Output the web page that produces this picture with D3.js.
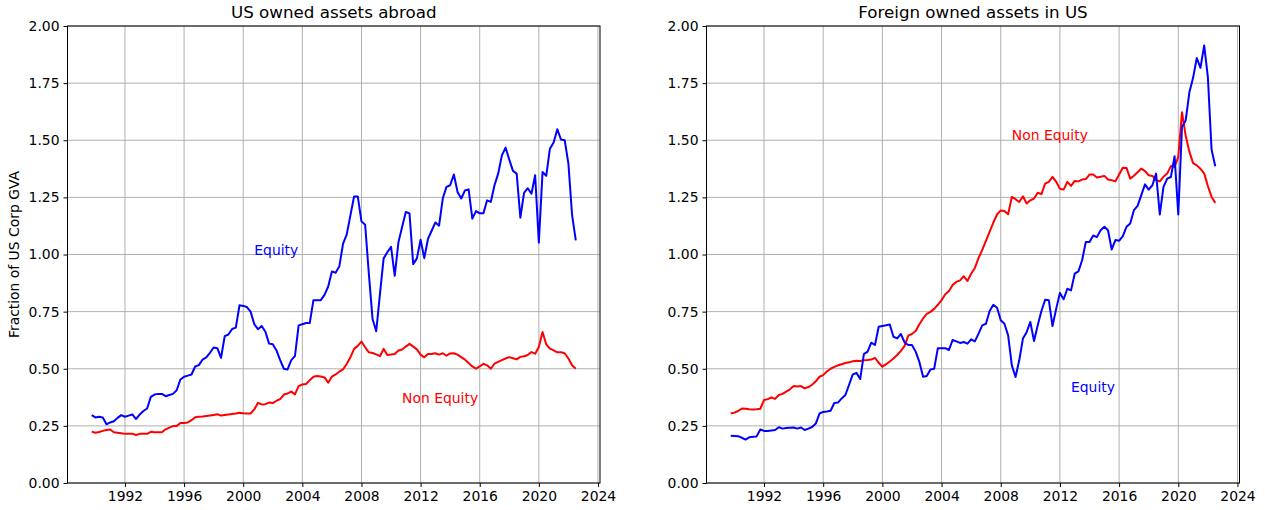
<!DOCTYPE html>
<html>
<head>
<meta charset="utf-8">
<script src="https://cdn.jsdelivr.net/npm/d3@7"></script>
<style>
  body { margin: 0; background: #fff; }
  text { font-family: "DejaVu Sans", sans-serif; }
</style>
</head>
<body>
<svg id="chart" width="1265" height="510"></svg>
<script>
// quarterly observations, Q4 1989 .. Q3 2022
const quarters = d3.range(132).map(i => 1989.75 + i * 0.25);
const yearTicks = [1992, 1996, 2000, 2004, 2008, 2012, 2016, 2020, 2024];
const valueTicks = [0, 0.25, 0.5, 0.75, 1.0, 1.25, 1.5, 1.75, 2.0];

// US owned assets abroad
const usEquity = [
  0.297,
  0.287, 0.29, 0.287, 0.257,
  0.265, 0.27, 0.285, 0.297,
  0.29, 0.295, 0.30, 0.28,
  0.30, 0.315, 0.326, 0.377,
  0.387, 0.39, 0.39, 0.38,
  0.385, 0.39, 0.406, 0.453,
  0.465, 0.47, 0.475, 0.51,
  0.516, 0.54, 0.55, 0.57,
  0.593, 0.59, 0.548, 0.643,
  0.65, 0.674, 0.68, 0.778,
  0.775, 0.77, 0.75, 0.695,
  0.673, 0.687, 0.662, 0.61,
  0.607, 0.58, 0.538, 0.50,
  0.497, 0.538, 0.555, 0.69,
  0.695, 0.70, 0.70, 0.80,
  0.80, 0.80, 0.823, 0.86,
  0.926, 0.92, 0.947, 1.046,
  1.087, 1.17, 1.254, 1.254,
  1.145, 1.13, 0.915, 0.718,
  0.664, 0.827, 0.983, 1.01,
  1.034, 0.907, 1.053, 1.12,
  1.186, 1.18, 0.958, 0.983,
  1.065, 0.984, 1.068, 1.104,
  1.14, 1.126, 1.245, 1.296,
  1.303, 1.35, 1.274, 1.245,
  1.28, 1.285, 1.157, 1.19,
  1.18, 1.18, 1.237, 1.23,
  1.303, 1.354, 1.434, 1.468,
  1.415, 1.366, 1.354, 1.161,
  1.27, 1.29, 1.266, 1.347,
  1.052, 1.361, 1.344, 1.463,
  1.49, 1.548, 1.503, 1.5,
  1.398, 1.172, 1.062
];
const usNonEquity = [
  0.225,
  0.22, 0.223, 0.228, 0.232,
  0.234, 0.222, 0.22, 0.218,
  0.215, 0.216, 0.216, 0.21,
  0.215, 0.215, 0.215, 0.224,
  0.222, 0.222, 0.222, 0.235,
  0.242, 0.249, 0.249, 0.263,
  0.263, 0.265, 0.275, 0.288,
  0.29, 0.291, 0.293, 0.295,
  0.298, 0.301, 0.295, 0.298,
  0.30, 0.302, 0.304, 0.307,
  0.305, 0.304, 0.304, 0.322,
  0.351, 0.344, 0.345, 0.352,
  0.35, 0.36, 0.367, 0.387,
  0.392, 0.40, 0.388, 0.424,
  0.431, 0.433, 0.45, 0.465,
  0.468, 0.466, 0.462, 0.439,
  0.466, 0.475, 0.487, 0.497,
  0.521, 0.55, 0.587, 0.60,
  0.619, 0.594, 0.572, 0.569,
  0.563, 0.555, 0.587, 0.56,
  0.562, 0.565, 0.58, 0.584,
  0.597, 0.609, 0.597, 0.585,
  0.562, 0.55, 0.565, 0.565,
  0.568, 0.562, 0.568, 0.557,
  0.567, 0.568, 0.562, 0.551,
  0.54, 0.525, 0.51, 0.50,
  0.51, 0.522, 0.515, 0.50,
  0.522, 0.53, 0.538, 0.545,
  0.551, 0.546, 0.541, 0.552,
  0.555, 0.56, 0.573, 0.566,
  0.595, 0.661, 0.607, 0.588,
  0.58, 0.572, 0.572, 0.568,
  0.545, 0.515, 0.50
];

// Foreign owned assets in US
const fgnEquity = [
  0.207,
  0.206, 0.205, 0.198, 0.19,
  0.20, 0.202, 0.204, 0.234,
  0.228, 0.228, 0.23, 0.232,
  0.244, 0.238, 0.241, 0.242,
  0.243, 0.238, 0.243, 0.232,
  0.238, 0.245, 0.26, 0.304,
  0.311, 0.313, 0.316, 0.35,
  0.352, 0.37, 0.385, 0.43,
  0.475, 0.482, 0.455, 0.564,
  0.575, 0.614, 0.604, 0.684,
  0.687, 0.69, 0.694, 0.64,
  0.633, 0.652, 0.615, 0.604,
  0.604, 0.575, 0.53, 0.465,
  0.468, 0.497, 0.50, 0.59,
  0.59, 0.59, 0.582, 0.626,
  0.62, 0.613, 0.617, 0.61,
  0.629, 0.62, 0.654, 0.69,
  0.697, 0.753, 0.78, 0.767,
  0.712, 0.697, 0.646, 0.515,
  0.464, 0.537, 0.632, 0.66,
  0.705, 0.621, 0.69, 0.753,
  0.802, 0.80, 0.687, 0.763,
  0.832, 0.804, 0.85, 0.843,
  0.916, 0.926, 0.975, 1.055,
  1.055, 1.083, 1.076, 1.106,
  1.121, 1.106, 1.022, 1.063,
  1.06, 1.08, 1.121, 1.136,
  1.194, 1.213, 1.26, 1.307,
  1.284, 1.303, 1.354, 1.175,
  1.296, 1.332, 1.339, 1.43,
  1.175, 1.558, 1.587, 1.71,
  1.773, 1.86, 1.817, 1.915,
  1.776, 1.459, 1.386
];
const fgnNonEquity = [
  0.304,
  0.308, 0.315, 0.326, 0.325,
  0.323, 0.322, 0.323, 0.325,
  0.363, 0.367, 0.374, 0.368,
  0.385, 0.39, 0.40, 0.41,
  0.424, 0.422, 0.424, 0.414,
  0.42, 0.43, 0.445, 0.465,
  0.472, 0.488, 0.50, 0.508,
  0.515, 0.52, 0.525, 0.528,
  0.533, 0.535, 0.534, 0.537,
  0.538, 0.54, 0.548, 0.526,
  0.509, 0.52, 0.532, 0.545,
  0.56, 0.578, 0.60, 0.645,
  0.652, 0.665, 0.695, 0.72,
  0.74, 0.749, 0.762, 0.78,
  0.80, 0.826, 0.84, 0.867,
  0.88, 0.887, 0.905, 0.884,
  0.916, 0.941, 0.985, 1.02,
  1.06, 1.10, 1.14, 1.175,
  1.193, 1.19, 1.176, 1.252,
  1.242, 1.23, 1.255, 1.223,
  1.237, 1.245, 1.27, 1.264,
  1.31, 1.318, 1.34, 1.318,
  1.288, 1.284, 1.318, 1.30,
  1.322, 1.32, 1.328, 1.33,
  1.35, 1.35, 1.337, 1.34,
  1.344, 1.328, 1.325, 1.32,
  1.35, 1.38, 1.379, 1.332,
  1.345, 1.36, 1.376, 1.365,
  1.347, 1.344, 1.325, 1.32,
  1.34, 1.354, 1.387, 1.383,
  1.427, 1.623, 1.52, 1.45,
  1.40, 1.39, 1.375, 1.355,
  1.30, 1.252, 1.226
];

const panels = [
  { title: 'US owned assets abroad', left: 67.5, right: 600,
    equity: usEquity, nonEquity: usNonEquity,
    eqLabel: [2000.75, 1.0], neqLabel: [2010.75, 0.35], ylabel: true },
  { title: 'Foreign owned assets in US', left: 706.5, right: 1239.5,
    equity: fgnEquity, nonEquity: fgnNonEquity,
    eqLabel: [2012.75, 0.4], neqLabel: [2008.75, 1.5], ylabel: false }
];

const plotTop = 26, plotBottom = 483;
const svg = d3.select('#chart');
const xDomain = [1988.1125, 2024.1375];

panels.forEach(function(p) {
  const x = d3.scaleLinear().domain(xDomain).range([p.left, p.right]);
  const y = d3.scaleLinear().domain([0, 2]).range([plotBottom, plotTop]);
  const g = svg.append('g');

  // grid
  g.append('g').selectAll('line').data(yearTicks).enter()
    .append('line')
    .attr('x1', d => x(d)).attr('x2', d => x(d))
    .attr('y1', plotTop).attr('y2', plotBottom)
    .attr('stroke', '#b0b0b0').attr('stroke-width', 1);
  g.append('g').selectAll('line').data(valueTicks).enter()
    .append('line')
    .attr('x1', p.left).attr('x2', p.right)
    .attr('y1', d => y(d)).attr('y2', d => y(d))
    .attr('stroke', '#b0b0b0').attr('stroke-width', 1);

  const line = d3.line().x((d, i) => x(quarters[i])).y(d => y(d));

  g.append('path').datum(p.nonEquity)
    .attr('d', line).attr('fill', 'none')
    .attr('stroke', '#ff0000').attr('stroke-width', 2)
    .attr('stroke-linejoin', 'round');
  g.append('path').datum(p.equity)
    .attr('d', line).attr('fill', 'none')
    .attr('stroke', '#0000ff').attr('stroke-width', 2)
    .attr('stroke-linejoin', 'round');

  // frame
  g.append('rect')
    .attr('x', p.left).attr('y', plotTop)
    .attr('width', p.right - p.left).attr('height', plotBottom - plotTop)
    .attr('fill', 'none').attr('stroke', '#000').attr('stroke-width', 1);

  const xAxis = d3.axisBottom(x).tickValues(yearTicks)
    .tickFormat(d3.format('d')).tickSize(4).tickPadding(4).tickSizeOuter(0);
  const yAxis = d3.axisLeft(y).tickValues(valueTicks)
    .tickFormat(d3.format('.2f')).tickSize(4).tickPadding(4).tickSizeOuter(0);

  const gx = g.append('g').attr('transform', `translate(0,${plotBottom})`).call(xAxis);
  const gy = g.append('g').attr('transform', `translate(${p.left},0)`).call(yAxis);
  [gx, gy].forEach(a => {
    a.select('.domain').remove();
    a.selectAll('text').attr('font-size', '13.9px').attr('fill', '#000')
      .attr('font-family', '"DejaVu Sans", sans-serif');
    a.selectAll('line').attr('stroke', '#000');
  });

  g.append('text')
    .attr('x', (p.left + p.right) / 2).attr('y', 18)
    .attr('text-anchor', 'middle').attr('font-size', '16.7px')
    .text(p.title);

  g.append('text')
    .attr('x', x(p.eqLabel[0])).attr('y', y(p.eqLabel[1]))
    .attr('fill', '#0000ff').attr('font-size', '13.9px')
    .text('Equity');
  g.append('text')
    .attr('x', x(p.neqLabel[0])).attr('y', y(p.neqLabel[1]))
    .attr('fill', '#ff0000').attr('font-size', '13.9px')
    .text('Non Equity');

  if (p.ylabel) {
    g.append('text')
      .attr('transform', `translate(19,${(plotTop + plotBottom) / 2}) rotate(-90)`)
      .attr('text-anchor', 'middle').attr('font-size', '13.9px')
      .text('Fraction of US Corp GVA');
  }
});
</script>
</body>
</html>
